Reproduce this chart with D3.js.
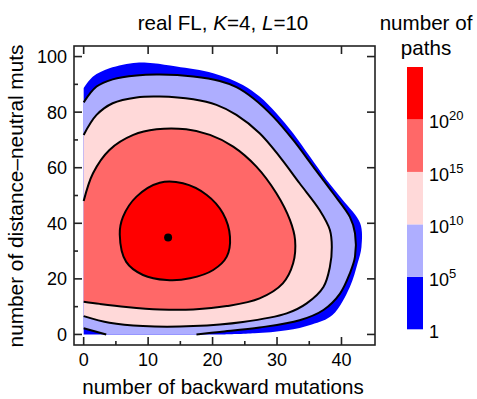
<!DOCTYPE html>
<html>
<head>
<meta charset="utf-8">
<script src="https://cdn.jsdelivr.net/npm/d3@7"></script>
<style>
  body { margin: 0; background: #fff; }
  text { font-family: "Liberation Sans", Arial, sans-serif; fill: #000; }
</style>
</head>
<body>
<svg id="chart" width="477" height="399"></svg>
<script>
// contour traces, [backward muts, distance-neutral muts]
const edgeLevel0 = [[0,88.6],[1.45,92.8],[4.0,95.8],[8.2,97.8],[10.8,97.6],[14.4,96.4],[20.1,94.0],[24.7,89.8],[27.3,85.6],[29.9,79.6],[32.5,72.4],[35.1,64.0],[37.7,55.6],[40.2,48.4],[42.9,40.0],[43.1,31.5],[42.5,25.6],[41.3,17.1],[38.6,7.0],[35.4,3.6],[31.5,1.5],[26.5,0.4],[22,0]];
const lineLevel5 = [[0,83.5],[2.0,89.2],[4.5,91.8],[8.2,93.2],[11.8,93.5],[17.0,92.8],[21.1,91.2],[23.7,89.0],[26.3,85.0],[29.4,78.4],[32.5,70.0],[35.6,60.4],[38.7,50.8],[41.3,42.3],[42.1,36.4],[42.1,28.0],[41.3,22.0],[39.8,14.8],[37.2,8.8],[33.5,5.1],[27.3,2.5],[21.1,0.9],[17.5,0]];
const lineLevel5b = [[3.5,0],[0,2.2]];
const lineLevel10 = [[0,71.8],[2.0,79.0],[4.5,83.2],[8.2,85.3],[11.8,85.6],[17.0,84.6],[20.6,82.6],[23.7,79.0],[27.3,72.4],[30.4,64.0],[33.5,54.4],[36.6,44.8],[38.2,37.6],[38.5,31.5],[38.2,24.3],[37.2,17.1],[34.6,11.2],[31.5,7.6],[24.7,4.5],[17.0,3.0],[9.2,3.0],[4.0,4.2],[0,6.6]];
const lineLevel15 = [[0,48.0],[1.45,58.0],[4.0,66.4],[7.7,71.8],[11.3,73.8],[15.9,73.8],[19.6,71.8],[23.2,67.6],[26.8,60.4],[29.9,50.8],[32.0,41.2],[32.8,34.0],[32.5,25.6],[30.9,18.4],[27.3,13.0],[22.2,10.2],[17.0,9.0],[11.8,9.0],[6.6,9.9],[2.5,11.0],[0,11.8]];
const lineLevel20 = [[5.6,36.0],[6.1,42.3],[8.2,49.6],[11.8,54.6],[15.4,54.4],[19.1,50.2],[21.6,43.6],[22.7,35.1],[22.2,28.0],[20.1,23.2],[16.5,20.2],[12.9,19.6],[9.2,21.4],[6.6,26.1]];
const peak = [13.1, 34.9];

const levelExps = [0, 5, 10, 15, 20, 25];
const levelColors = ["#0000ff", "#aeaeff", "#ffd9d9", "#ff6868", "#ff0000"];
const xTicks = [0, 10, 20, 30, 40];
const xMinor = [5, 15, 25, 35];
const yTicks = [0, 20, 40, 60, 80, 100];
const yMinor = [10, 30, 50, 70, 90];

const svg = d3.select("#chart");
const x = d3.scaleLinear().domain([-1.5, 45.2]).range([74, 375]);
const y = d3.scaleLinear().domain([-3.8, 103.8]).range([345, 46]);

const smooth = d3.line().x(d => x(d[0])).y(d => y(d[1])).curve(d3.curveCatmullRom.alpha(0.5));
const smoothClosed = d3.line().x(d => x(d[0])).y(d => y(d[1])).curve(d3.curveCatmullRomClosed.alpha(0.5));
const pt = d => "L" + x(d[0]) + "," + y(d[1]);
const cont = pts => smooth(pts).replace(/^M/, "L");

const plot = svg.append("g");

// filled bands, lowest level first
plot.append("path").attr("fill", levelColors[0])
    .attr("d", smooth(edgeLevel0) + pt([0, 0]) + "Z");
plot.append("path").attr("fill", levelColors[1])
    .attr("d", smooth(lineLevel5) + cont(lineLevel5b) + "Z");
plot.append("path").attr("fill", levelColors[2])
    .attr("d", smooth(lineLevel10) + "Z");
plot.append("path").attr("fill", levelColors[3])
    .attr("d", smooth(lineLevel15) + "Z");
plot.append("path").attr("fill", levelColors[4])
    .attr("d", smoothClosed(lineLevel20));

// contour lines
[lineLevel5, lineLevel5b, lineLevel10, lineLevel15].forEach(l => {
    plot.append("path").attr("d", smooth(l))
        .attr("fill", "none").attr("stroke", "#000").attr("stroke-width", 2);
});
plot.append("path").attr("d", smoothClosed(lineLevel20))
    .attr("fill", "none").attr("stroke", "#000").attr("stroke-width", 2);

plot.append("circle").attr("cx", x(peak[0])).attr("cy", y(peak[1])).attr("r", 4).attr("fill", "#000");

// frame + ticks
const frame = svg.append("g").attr("stroke", "#222").attr("stroke-width", 1.6);
frame.append("rect").attr("x", 74).attr("y", 46).attr("width", 301).attr("height", 299).attr("fill", "none");
xTicks.forEach(t => {
    frame.append("line").attr("x1", x(t)).attr("x2", x(t)).attr("y1", 345).attr("y2", 337);
    frame.append("line").attr("x1", x(t)).attr("x2", x(t)).attr("y1", 46).attr("y2", 54);
});
xMinor.forEach(t => {
    frame.append("line").attr("x1", x(t)).attr("x2", x(t)).attr("y1", 345).attr("y2", 341);
});
yTicks.forEach(t => {
    frame.append("line").attr("x1", 74).attr("x2", 82).attr("y1", y(t)).attr("y2", y(t));
    frame.append("line").attr("x1", 375).attr("x2", 367).attr("y1", y(t)).attr("y2", y(t));
});
yMinor.forEach(t => {
    frame.append("line").attr("x1", 74).attr("x2", 78).attr("y1", y(t)).attr("y2", y(t));
});

svg.selectAll(".xlab").data(xTicks).join("text")
    .attr("x", d => x(d)).attr("y", 366).attr("text-anchor", "middle")
    .attr("font-size", 18).text(d => d);
svg.selectAll(".ylab").data(yTicks).join("text")
    .attr("x", 67).attr("y", d => y(d) + 6.5).attr("text-anchor", "end")
    .attr("font-size", 18).text(d => d);

svg.append("text").attr("x", 223).attr("y", 394).attr("text-anchor", "middle")
    .attr("font-size", 20.6).text("number of backward mutations");
svg.append("text").attr("transform", "translate(23,196) rotate(-90)").attr("text-anchor", "middle")
    .attr("font-size", 20.8).text("number of distance\u2013neutral muts");

const title = svg.append("text").attr("x", 223).attr("y", 30).attr("text-anchor", "middle").attr("font-size", 20.6);
title.append("tspan").text("real FL, ");
title.append("tspan").attr("font-style", "italic").text("K");
title.append("tspan").text("=4, ");
title.append("tspan").attr("font-style", "italic").text("L");
title.append("tspan").text("=10");

// colour bar
const cb = d3.scaleLinear().domain([0, 25]).range([329.3, 67]);
svg.selectAll(".band").data(levelColors).join("rect")
    .attr("x", 407).attr("width", 16)
    .attr("y", (d, i) => cb(levelExps[i + 1]))
    .attr("height", (d, i) => cb(levelExps[i]) - cb(levelExps[i + 1]))
    .attr("fill", d => d);

levelExps.slice(0, 5).forEach(e => {
    const t = svg.append("text").attr("x", 429).attr("y", cb(e) + 9).attr("font-size", 18);
    if (e === 0) {
        t.text("1");
    } else {
        t.append("tspan").text("10");
        t.append("tspan").attr("dy", -8).attr("font-size", 13).text(e);
    }
});

svg.append("text").attr("x", 426).attr("y", 30).attr("text-anchor", "middle").attr("font-size", 20.6).text("number of");
svg.append("text").attr("x", 426).attr("y", 55).attr("text-anchor", "middle").attr("font-size", 20.6).text("paths");
</script>
</body>
</html>
